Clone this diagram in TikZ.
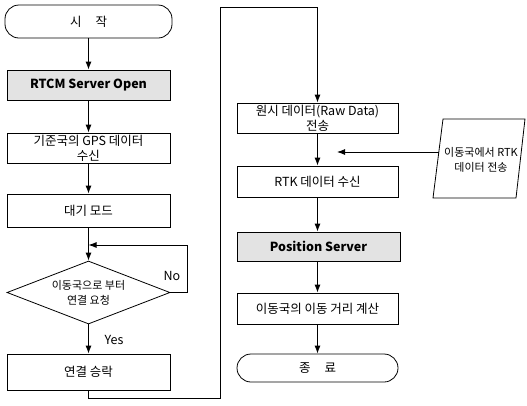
\documentclass[tikz,border=0pt]{standalone}
\usepackage{fontspec}
\setmainfont{Noto Sans CJK KR}
\usetikzlibrary{shapes.geometric,arrows.meta}
\begin{document}
\begin{tikzpicture}[x=1pt,y=-1pt,
  every node/.style={font=\fontsize{12.5}{15}\selectfont, align=center, inner sep=1pt},
  box/.style={draw, line width=0.8pt, minimum width=163pt, minimum height=30pt},
  graybox/.style={box, fill=gray!22},
  term/.style={draw, line width=0.8pt, rounded corners=14pt, minimum width=163pt, minimum height=31pt},
  dec/.style={draw, line width=0.8pt, diamond, aspect=2.6, minimum width=163pt, minimum height=63pt, inner sep=0pt},
  conn/.style={line width=0.9pt},
  arr/.style={conn, -{Latex[length=8pt,width=6pt]}}]
\useasboundingbox (0,0) rectangle (527,405);
% left column
\node[term, minimum width=167pt, minimum height=33pt] (start) at (88.5,21.5) {시\hspace{14pt}작};
\node[graybox, font=\fontsize{12.5}{15}\selectfont\bfseries] (rtcm) at (88.5,85) {RTCM Server Open};
\node[box] (gps) at (88.5,148) {기준국의 GPS 데이터\\수신};
\node[box, minimum height=33pt] (wait) at (88.5,210.5) {대기 모드};
\node[dec, font=\fontsize{11}{15}\selectfont] (ask) at (88.5,292.5) {이동국으로 부터\\연결 요청};
\node[box, minimum height=36pt] (acc) at (88.5,372) {연결 승락};
% right column
\node[box, minimum width=161pt] (raw) at (317.5,118) {원시 데이터(Raw Data)\\전송};
\node[box, minimum width=161pt, minimum height=31pt] (rtk) at (317.5,181.5) {RTK 데이터 수신};
\node[graybox, minimum width=163pt, minimum height=29pt, font=\fontsize{12.5}{15}\selectfont\bfseries] (pos) at (318.5,246.5) {Position Server};
\node[box, minimum width=161pt, minimum height=31pt] (dist) at (317.5,308.5) {이동국의 이동 거리 계산};
\node[term, minimum width=161pt, minimum height=28pt] (fin) at (317.5,368) {종\hspace{14pt}료};
% parallelogram
\draw[line width=0.8pt] (443,119) -- (525,119) -- (516,198) -- (433,198) -- cycle;
\node[font=\fontsize{11}{15}\selectfont] (mob) at (481,160) {이동국에서 RTK\\데이터 전송};
\coordinate (mobL) at (439,152);
\coordinate (tip) at (337,152);
% labels
\node (no) at (172,276) {No};
\node (yes) at (114,340) {Yes};
% connectors
\draw[arr] (start) -- (rtcm);
\draw[arr] (rtcm) -- (gps);
\draw[arr] (gps) -- (wait);
\draw[arr] (wait) -- (ask);
\coordinate (lr) at (187,292.5);
\coordinate (lt) at (187,245);
\coordinate (lj) at (88.5,245);
\draw[arr] (ask.east) -- (lr) -- (lt) -- (lj);
\draw[arr] (ask) -- (acc);
\coordinate (c1) at (88.5,398);
\coordinate (c2) at (220,398);
\coordinate (c3) at (220,7);
\coordinate (c4) at (317.5,7);
\draw[arr] (acc.south) -- (c1) -- (c2) -- (c3) -- (c4) -- (raw.north);
\draw[arr] (raw) -- (rtk);
\draw[arr] (mobL) -- (tip);
\draw[arr] (rtk) -- (rtk.south |- pos.north);
\draw[arr] (pos.south -| dist.north) -- (dist);
\draw[arr] (dist) -- (fin);
\end{tikzpicture}
\end{document}
